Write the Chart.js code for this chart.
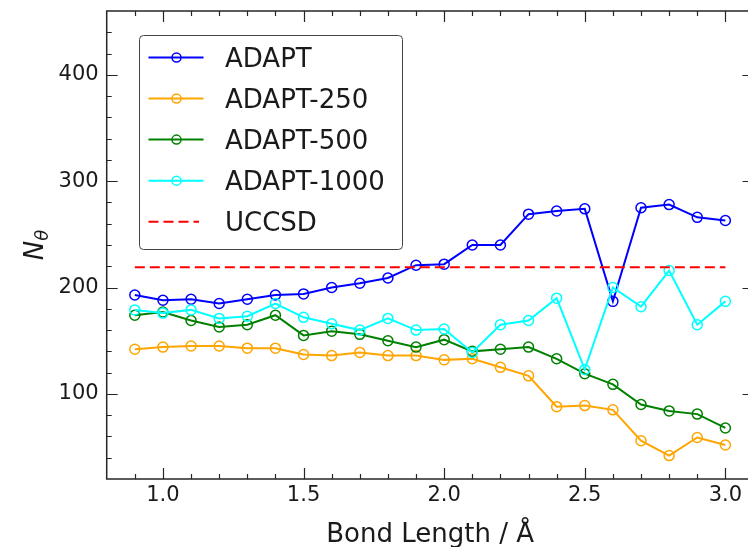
<!DOCTYPE html>
<html><head><meta charset="utf-8">
<script src="https://cdn.jsdelivr.net/npm/chart.js@4/dist/chart.umd.min.js"></script>
<style>html,body{margin:0;padding:0;background:#fff;overflow:hidden;}canvas{display:block;}</style>
</head><body>
<canvas id="c" width="760" height="547"></canvas>
<script>
// ---- data ----
const bondLengths = [0.9,1.0,1.1,1.2,1.3,1.4,1.5,1.6,1.7,1.8,1.9,2.0,2.1,2.2,2.3,2.4,2.5,2.6,2.7,2.8,2.9,3.0];
const adapt     = [193,188,189,185,189,193,194,200,204,209,221,222,240,240,269,272,274,187,275,278,266,263];
const adapt250  = [142,144,145,145,143,143,137,136,139,136,136,132,133,125,117,88,89,85,56,42,59,52];
const adapt500  = [174,177,169,163,165,174,155,159,156,150,144,151,140,142,144,133,119,109,90,84,81,68];
const adapt1000 = [179,176,179,171,173,185,172,166,160,171,160,161,139,165,169,190,123,200,182,216,165,187];
const uccsd = 219;
const seriesNames = ['ADAPT','ADAPT-250','ADAPT-500','ADAPT-1000','UCCSD'];
const xTickLabels = [1.0,1.5,2.0,2.5,3.0];
const yTickLabels = [100,200,300,400];
const xLabel = 'Bond Length / Å';

const FAMILY = "'DejaVu Sans', sans-serif";
const INK = '#1a1a1a';
const pts = vals => bondLengths.map((x,i)=>({x, y: vals[i]}));
function lineDs(label, vals, color, order){
  return {label, data: pts(vals), borderColor: color, backgroundColor: color, borderWidth: 2,
    pointRadius: 5, pointBorderWidth: 1.5, pointBackgroundColor: 'rgba(0,0,0,0)',
    pointBorderColor: color, tension: 0, order};
}

const decor = {
  id: 'decor',
  afterDatasetsDraw(chart){
    const {ctx, chartArea: a, scales: {x, y}} = chart;
    ctx.save();
    ctx.strokeStyle = '#262626';
    ctx.lineWidth = 1.5;
    ctx.strokeRect(a.left, a.top, a.right - a.left, a.bottom - a.top);
    ctx.lineWidth = 1.2;
    ctx.beginPath();
    const MAJ = 11, MIN = 5;
    for (let i = 9; i <= 30; i++){
      const v = i / 10;
      const L = (i % 5 === 0) ? MAJ : MIN;
      const px = Math.round(x.getPixelForValue(v)) + 0.5;
      ctx.moveTo(px, a.bottom); ctx.lineTo(px, a.bottom - L);
      ctx.moveTo(px, a.top); ctx.lineTo(px, a.top + L);
    }
    for (let v = 40; v < 460; v += 20){
      const L = (v % 100 === 0) ? MAJ : MIN;
      const py = Math.round(y.getPixelForValue(v)) + 0.5;
      ctx.moveTo(a.left, py); ctx.lineTo(a.left + L, py);
      ctx.moveTo(a.right, py); ctx.lineTo(a.right - L, py);
    }
    ctx.stroke();
    ctx.restore();
  },
  afterDraw(chart){
    const {ctx, chartArea: a} = chart;
    ctx.save();
    // y-axis title N_theta
    ctx.translate(33, (a.top + a.bottom) / 2);
    ctx.rotate(-Math.PI / 2);
    ctx.fillStyle = INK;
    ctx.textBaseline = 'alphabetic';
    ctx.font = 'italic 26px ' + FAMILY;
    const wN = ctx.measureText('N').width;
    ctx.font = 'italic 18px ' + FAMILY;
    const wT = ctx.measureText('θ').width;
    const total = wN + wT;
    ctx.font = 'italic 26px ' + FAMILY;
    ctx.fillText('N', -total / 2, 10);
    ctx.font = 'italic 18px ' + FAMILY;
    ctx.fillText('θ', -total / 2 + wN, 15);
    ctx.restore();

    // legend
    ctx.save();
    const bx = 139.5, by = 35.5, bw = 263, bh = 214, r = 4;
    ctx.beginPath();
    ctx.moveTo(bx + r, by);
    ctx.arcTo(bx + bw, by, bx + bw, by + bh, r);
    ctx.arcTo(bx + bw, by + bh, bx, by + bh, r);
    ctx.arcTo(bx, by + bh, bx, by, r);
    ctx.arcTo(bx, by, bx + bw, by, r);
    ctx.closePath();
    ctx.fillStyle = 'rgba(255,255,255,0.85)';
    ctx.fill();
    ctx.strokeStyle = '#444';
    ctx.lineWidth = 1;
    ctx.stroke();
    chart.data.datasets.forEach((ds, i) => {
      const cy = 57.5 + i * 41.05;
      ctx.strokeStyle = ds.borderColor;
      ctx.lineWidth = 2;
      ctx.setLineDash(ds.borderDash || []);
      ctx.beginPath();
      ctx.moveTo(148.5, cy); ctx.lineTo(ds.borderDash ? 199 : 203.5, cy);
      ctx.stroke();
      ctx.setLineDash([]);
      if (ds.pointRadius > 0){
        ctx.lineWidth = 1.5;
        ctx.beginPath();
        ctx.arc(176.5, cy, 4.5, 0, Math.PI * 2);
        ctx.stroke();
      }
      ctx.fillStyle = INK;
      ctx.font = '26px ' + FAMILY;
      ctx.textBaseline = 'alphabetic';
      ctx.fillText(ds.label, 225, cy + 9.5);
    });
    ctx.restore();
  }
};

new Chart(document.getElementById('c'), {
  type: 'line',
  data: {
    datasets: [
      lineDs(seriesNames[0], adapt, '#0000ff', 4),
      lineDs(seriesNames[1], adapt250, '#ffa500', 3),
      lineDs(seriesNames[2], adapt500, '#008000', 2),
      lineDs(seriesNames[3], adapt1000, '#00ffff', 1),
      {label: seriesNames[4],
       data: [{x: bondLengths[0], y: uccsd}, {x: bondLengths[bondLengths.length - 1], y: uccsd}],
       borderColor: '#ff0000', backgroundColor: '#ff0000', borderWidth: 2, borderDash: [10, 5],
       pointRadius: 0, order: 0}
    ]
  },
  options: {
    responsive: false,
    animation: false,
    devicePixelRatio: 1,
    layout: {padding: {left: 0, top: 11, right: 0, bottom: 0}},
    plugins: {legend: {display: false}, tooltip: {enabled: false}},
    scales: {
      x: {
        type: 'linear', min: 0.8, max: 3.1,
        afterBuildTicks: s => { s.ticks = xTickLabels.map(v => ({value: v})); },
        ticks: {callback: v => Number(v).toFixed(1), font: {family: FAMILY, size: 21}, color: INK,
                padding: 4, maxRotation: 0, autoSkip: false},
        grid: {display: false, drawTicks: false},
        border: {display: false},
        title: {display: true, text: xLabel, font: {family: FAMILY, size: 26}, color: INK,
                padding: {top: 4, bottom: -4}},
        afterFit: s => { s.height = 68; s.paddingLeft = 0; s.paddingRight = 0; }
      },
      y: {
        min: 20, max: 460,
        afterBuildTicks: s => { s.ticks = yTickLabels.map(v => ({value: v})); },
        ticks: {font: {family: FAMILY, size: 21}, color: INK, padding: 8},
        grid: {display: false, drawTicks: false},
        border: {display: false},
        afterFit: s => { s.width = 106.7; s.paddingTop = 0; s.paddingBottom = 0; }
      }
    }
  },
  plugins: [decor]
});
</script>
</body></html>
